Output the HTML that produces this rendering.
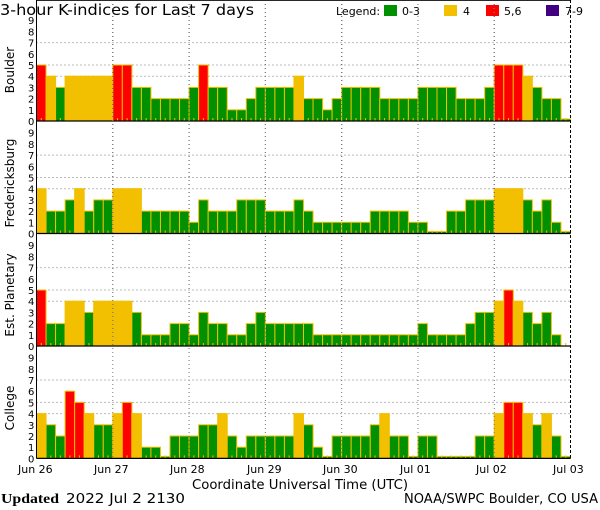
<!DOCTYPE html>
<html><head><meta charset="utf-8"><style>
html,body{margin:0;padding:0;background:#fff;width:600px;height:510px;overflow:hidden}
svg{display:block}
text{font-family:"DejaVu Sans","Liberation Sans",sans-serif;fill:#000}
</style></head><body>
<svg id="s" width="600" height="510" xmlns="http://www.w3.org/2000/svg">
<text x="0" y="15" font-size="15.5" textLength="254" lengthAdjust="spacingAndGlyphs">3-hour K-indices for Last 7 days</text>
<text x="336" y="15" font-size="11">Legend:</text>
<rect x="384" y="5" width="13" height="11" fill="#009000"/><text x="402" y="15" font-size="11">0-3</text>
<rect x="444" y="5" width="13" height="11" fill="#f2c000"/><text x="463" y="15" font-size="11">4</text>
<rect x="486" y="5" width="13" height="11" fill="#ff0000"/><text x="504" y="15" font-size="11">5,6</text>
<rect x="546" y="5" width="13" height="11" fill="#400080"/><text x="565" y="15" font-size="11">7-9</text>
<g id="p"></g>
<text x="18" y="473" font-size="11">Jun 26</text>
<text x="94" y="473" font-size="11">Jun 27</text>
<text x="170" y="473" font-size="11">Jun 28</text>
<text x="247" y="473" font-size="11">Jun 29</text>
<text x="323" y="473" font-size="11">Jun 30</text>
<text x="400" y="473" font-size="11">Jul 01</text>
<text x="476" y="473" font-size="11">Jul 02</text>
<text x="553" y="473" font-size="11">Jul 03</text>
<text x="192" y="489" font-size="13" textLength="216" lengthAdjust="spacingAndGlyphs">Coordinate Universal Time (UTC)</text>
<text x="1" y="503" font-size="14" font-weight="bold" style="font-family:'Liberation Serif',serif" textLength="58" lengthAdjust="spacingAndGlyphs">Updated</text>
<text x="66" y="503" font-size="13" textLength="119" lengthAdjust="spacingAndGlyphs">2022 Jul  2 2130</text>
<text x="404" y="503" font-size="13" textLength="194" lengthAdjust="spacingAndGlyphs">NOAA/SWPC Boulder, CO USA</text>
<text transform="translate(14,70) rotate(-90)" font-size="12" text-anchor="middle">Boulder</text>
<text transform="translate(14,183) rotate(-90)" font-size="12" text-anchor="middle">Fredericksburg</text>
<text transform="translate(14,295) rotate(-90)" font-size="12" text-anchor="middle">Est. Planetary</text>
<text transform="translate(14,408) rotate(-90)" font-size="12" text-anchor="middle">College</text>
</svg>
<script>
var D=[
[5,4,3,4,4,4,4,4, 5,5,3,3,2,2,2,2, 3,5,3,3,1,1,2,3, 3,3,3,4,2,2,1,2, 3,3,3,3,2,2,2,2, 3,3,3,3,2,2,2,3, 5,5,5,4,3,2,2,0],
[4,2,2,3,4,2,3,3, 4,4,4,2,2,2,2,2, 1,3,2,2,2,3,3,3, 2,2,2,3,2,1,1,1, 1,1,1,2,2,2,2,1, 1,0,0,2,2,3,3,3, 4,4,4,3,2,3,1,0],
[5,2,2,4,4,3,4,4, 4,4,3,1,1,1,2,2, 1,3,2,2,1,1,2,3, 2,2,2,2,2,1,1,1, 1,1,1,1,1,1,1,1, 2,1,1,1,1,2,3,3, 4,5,4,3,2,3,1,-1],
[4,3,2,6,5,4,3,3, 4,5,4,1,1,0,2,2, 2,3,3,4,2,1,2,2, 2,2,2,4,3,1,0,2, 2,2,2,3,4,2,2,0, 2,2,0,0,0,0,2,2, 4,5,5,4,3,4,2,0]];
var zs=[121,233.5,346,458.4],u=11.2,x0=36.5,bw=534/56,h='';
function col(v){return v<=3?'#009000':v==4?'#f2c000':v<=6?'#ff0000':'#400080';}
for(var p=0;p<4;p++){var z=zs[p],top=z-102;
 for(var k=0;k<=9;k++){h+='<text x="28" y="'+(z-k*u+4)+'" font-size="10">'+k+'</text>';}
 [4,5,7].forEach(function(k){var y=z-k*u;h+='<line x1="'+x0+'" x2="570" y1="'+y+'" y2="'+y+'" stroke="#777" stroke-dasharray="1,3"/>';});
 for(var i=0;i<56;i++){var v=D[p][i],x=x0+i*bw;
  if(v>=0){var hh=v==0?2:v*u;h+='<rect x="'+x.toFixed(2)+'" y="'+(z-hh).toFixed(2)+'" width="'+bw.toFixed(2)+'" height="'+hh.toFixed(2)+'" fill="'+col(v)+'" stroke="#f2c000" stroke-width="1"/>';}
  h+='<rect x="'+(x+bw/2-0.5).toFixed(2)+'" y="'+(z-3)+'" width="1" height="3" fill="#f2c000"/>';}
 for(var d=1;d<7;d++){var x=x0+d*76.3;h+='<line x1="'+x+'" x2="'+x+'" y1="'+top+'" y2="'+z+'" stroke="#777" stroke-dasharray="1,3"/>';}
 h+='<line x1="'+x0+'" x2="570.5" y1="'+top+'" y2="'+top+'" stroke="#000" stroke-width="1.2"/>';
 h+='<line x1="'+x0+'" x2="570.5" y1="'+z+'" y2="'+z+'" stroke="#000" stroke-width="1.2"/>';
 h+='<line x1="'+x0+'" x2="'+x0+'" y1="'+top+'" y2="'+z+'" stroke="#000" stroke-width="1"/>';
 h+='<line x1="570.5" x2="570.5" y1="'+top+'" y2="'+z+'" stroke="#000" stroke-dasharray="3,2"/>';
}
document.getElementById('p').innerHTML=h;
</script>
</body></html>
